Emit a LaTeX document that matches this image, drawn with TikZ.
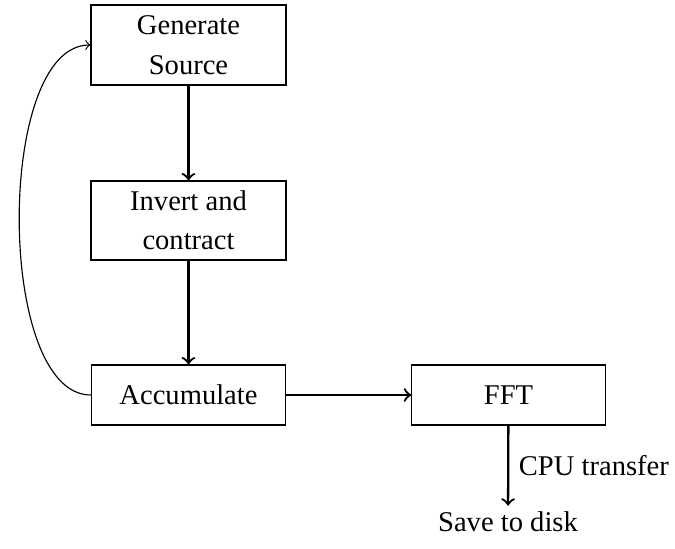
\documentclass[tikz,border=0pt]{standalone}
\usepackage{fontspec}
\setmainfont{Liberation Serif}
\begin{document}
\begin{tikzpicture}[x=0.35pt,y=-0.35pt,
  txt/.style={font=\fontsize{10}{13.8}\selectfont},
  stepbox/.style={draw, line width=0.4pt, align=center, inner sep=0pt, txt},
  flow/.style={->, thick}]
\useasboundingbox (0,0) rectangle (675,548);
\node[stepbox, minimum width=68.25pt, minimum height=28pt] (gen) at (188.5,45) {Generate\\Source};
\node[stepbox, minimum width=68.25pt, minimum height=27.65pt] (inv) at (188.5,220.5) {Invert and\\contract};
\node[stepbox, minimum width=68pt, minimum height=21pt] (acc) at (188.5,395) {Accumulate};
\node[stepbox, minimum width=67.7pt, minimum height=21pt] (fft) at (508.5,395) {FFT};
\node[txt, inner sep=2pt] (save) at (508,522) {Save to disk};
\draw[flow] (gen) -- (inv);
\draw[flow] (inv) -- (acc);
\draw[flow] (acc) -- (fft);
\draw[flow] (fft) -- node[right, txt] (cpu) {CPU transfer} (save);
\draw[->] (acc.west) .. controls +(-95,0) and +(-95,0) .. (gen.west);
\end{tikzpicture}
\end{document}
